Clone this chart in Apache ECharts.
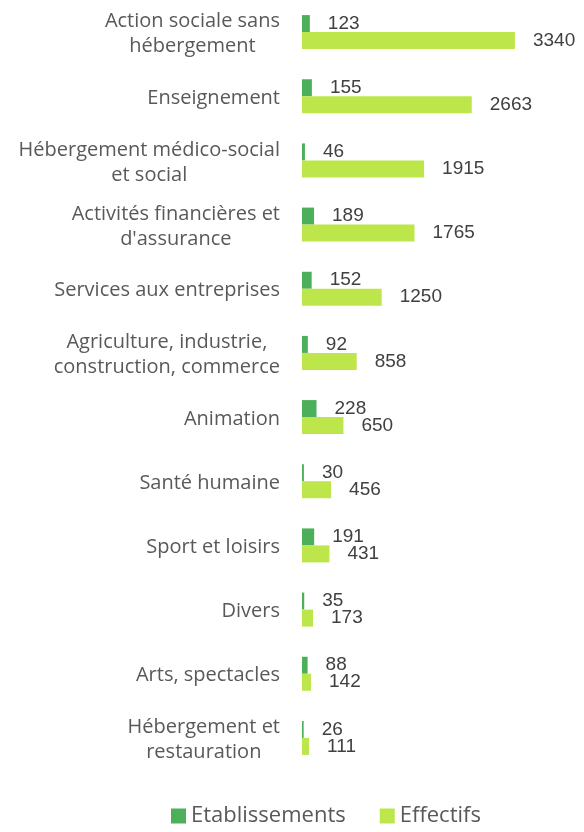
<!DOCTYPE html>
<html>
<head>
<meta charset="utf-8">
<script src="https://cdn.jsdelivr.net/npm/echarts@6/dist/echarts.min.js"></script>
<style>
html,body{margin:0;padding:0;background:#fff;}
#main{width:584px;height:832px;}
</style>
</head>
<body>
<div id="main"></div>
<script>
var categories=["Action sociale sans\nhébergement","Enseignement","Hébergement médico-social\net social","Activités financières et\nd'assurance","Services aux entreprises","Agriculture, industrie,\nconstruction, commerce","Animation","Santé humaine","Sport et loisirs","Divers","Arts, spectacles","Hébergement et\nrestauration"];
var etablissements=[123,155,46,189,152,92,228,30,191,35,88,26];
var effectifs=[3340,2663,1915,1765,1250,858,650,456,431,173,142,111];
var seriesNames=["Etablissements","Effectifs"];

var myChart=echarts.init(document.getElementById('main'));

var labelStyle={
    show:true,
    position:'right',
    distance:18,
    color:'#404040',
    fontSize:19,
    fontFamily:'Liberation Sans'
};

var option={
    animation:false,
    textStyle:{fontFamily:'Open Sans'},
    grid:{left:302,top:0,width:255,height:770},
    xAxis:{
        type:'value',min:0,max:4000,
        show:false
    },
    yAxis:{
        type:'category',
        data:categories,
        inverse:true,
        axisLine:{show:false},
        axisTick:{show:false},
        axisLabel:{
            margin:22,
            color:'#595959',
            fontSize:20,
            fontFamily:'Open Sans',
            lineHeight:25,
            padding:[4,0,0,0],
            formatter:function(v){
                return v.split('\n').map(function(s){return '{c|'+s+'}';}).join('\n');
            },
            rich:{c:{align:'center',fontSize:20,fontFamily:'Open Sans',color:'#595959',lineHeight:25}}
        }
    },
    legend:{
        bottom:0,
        left:166,
        itemWidth:15,
        itemHeight:15,
        itemGap:34,
        icon:'rect',
        textStyle:{fontSize:22,fontFamily:'Open Sans',color:'#595959'},
        data:seriesNames
    },
    series:[{
        name:seriesNames[0],
        type:'bar',
        data:etablissements,
        barWidth:17,
        barGap:'0%',
        itemStyle:{color:'#4cb05a'},
        label:labelStyle
    },{
        name:seriesNames[1],
        type:'bar',
        data:effectifs,
        barWidth:17,
        barGap:'0%',
        itemStyle:{color:'#bde64b'},
        label:labelStyle
    }]
};

myChart.setOption(option);
</script>
</body>
</html>
